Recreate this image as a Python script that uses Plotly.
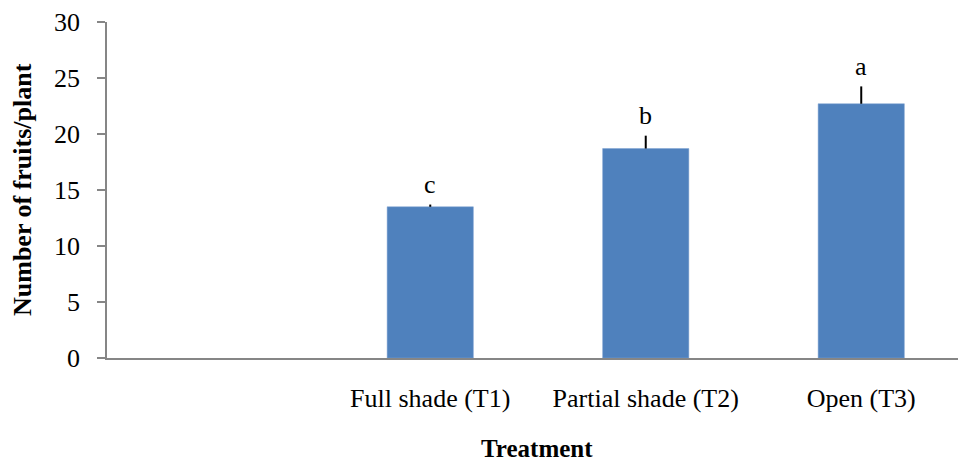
import plotly.graph_objects as go

categories = [" ", "Full shade (T1)", "Partial shade (T2)", "Open (T3)"]
fruits = [None, 13.5, 18.7, 22.7]
errors = [0, 0.2, 1.15, 1.55]
letters = ["", "c", "b", "a"]

FONT = "Liberation Serif, Times New Roman, serif"
PLOT_W = 958 - 107

fig = go.Figure()
fig.add_trace(go.Bar(
    x=categories, y=fruits,
    marker=dict(color="#4F81BD", line=dict(color="#7CA0D0", width=0.5)),
    error_y=dict(type="data", symmetric=False, array=errors,
                 arrayminus=[0] * len(errors), color="black",
                 thickness=2, width=0),
    showlegend=False,
))

for c, v, e, t in zip(categories, fruits, errors, letters):
    if v is None:
        continue
    fig.add_annotation(x=c, y=v + e, text=t, showarrow=False,
                       yanchor="middle", yshift=20,
                       font=dict(family=FONT, size=26, color="black"))

# x-axis title (centred on the full category band)
fig.add_annotation(xref="paper", yref="paper", x=(537 - 107) / PLOT_W, y=0,
                   yshift=-90, yanchor="middle", showarrow=False,
                   text="<b>Treatment</b>",
                   font=dict(family=FONT, size=25, color="black"))

# y-axis title
fig.add_annotation(xref="paper", yref="paper", x=-(107 - 22) / PLOT_W, y=0.5,
                   xanchor="center", yanchor="middle", textangle=-90,
                   showarrow=False, text="<b>Number of fruits/plant</b>",
                   font=dict(family=FONT, size=26, color="black"))

fig.update_layout(
    width=958, height=461,
    margin=dict(l=107, r=0, t=22, b=103),
    paper_bgcolor="white", plot_bgcolor="white",
    bargap=0.6,
    font=dict(family=FONT, color="black"),
    xaxis=dict(
        type="category", categoryorder="array", categoryarray=categories,
        range=[-0.5, 3.449],
        showline=True, linecolor="#868686", linewidth=1.5,
        ticks="", tickfont=dict(family=FONT, size=26, color="black"),
        ticklabelstandoff=16,
        showgrid=False, zeroline=False,
    ),
    yaxis=dict(
        range=[0, 30], tickvals=[0, 5, 10, 15, 20, 25, 30],
        showline=True, linecolor="#868686", linewidth=1.5,
        ticks="outside", ticklen=8, tickcolor="#868686", tickwidth=1.5,
        tickfont=dict(family=FONT, size=26, color="black"),
        ticklabelstandoff=12,
        showgrid=False, zeroline=False,
    ),
)

fig.write_html("out.html")
